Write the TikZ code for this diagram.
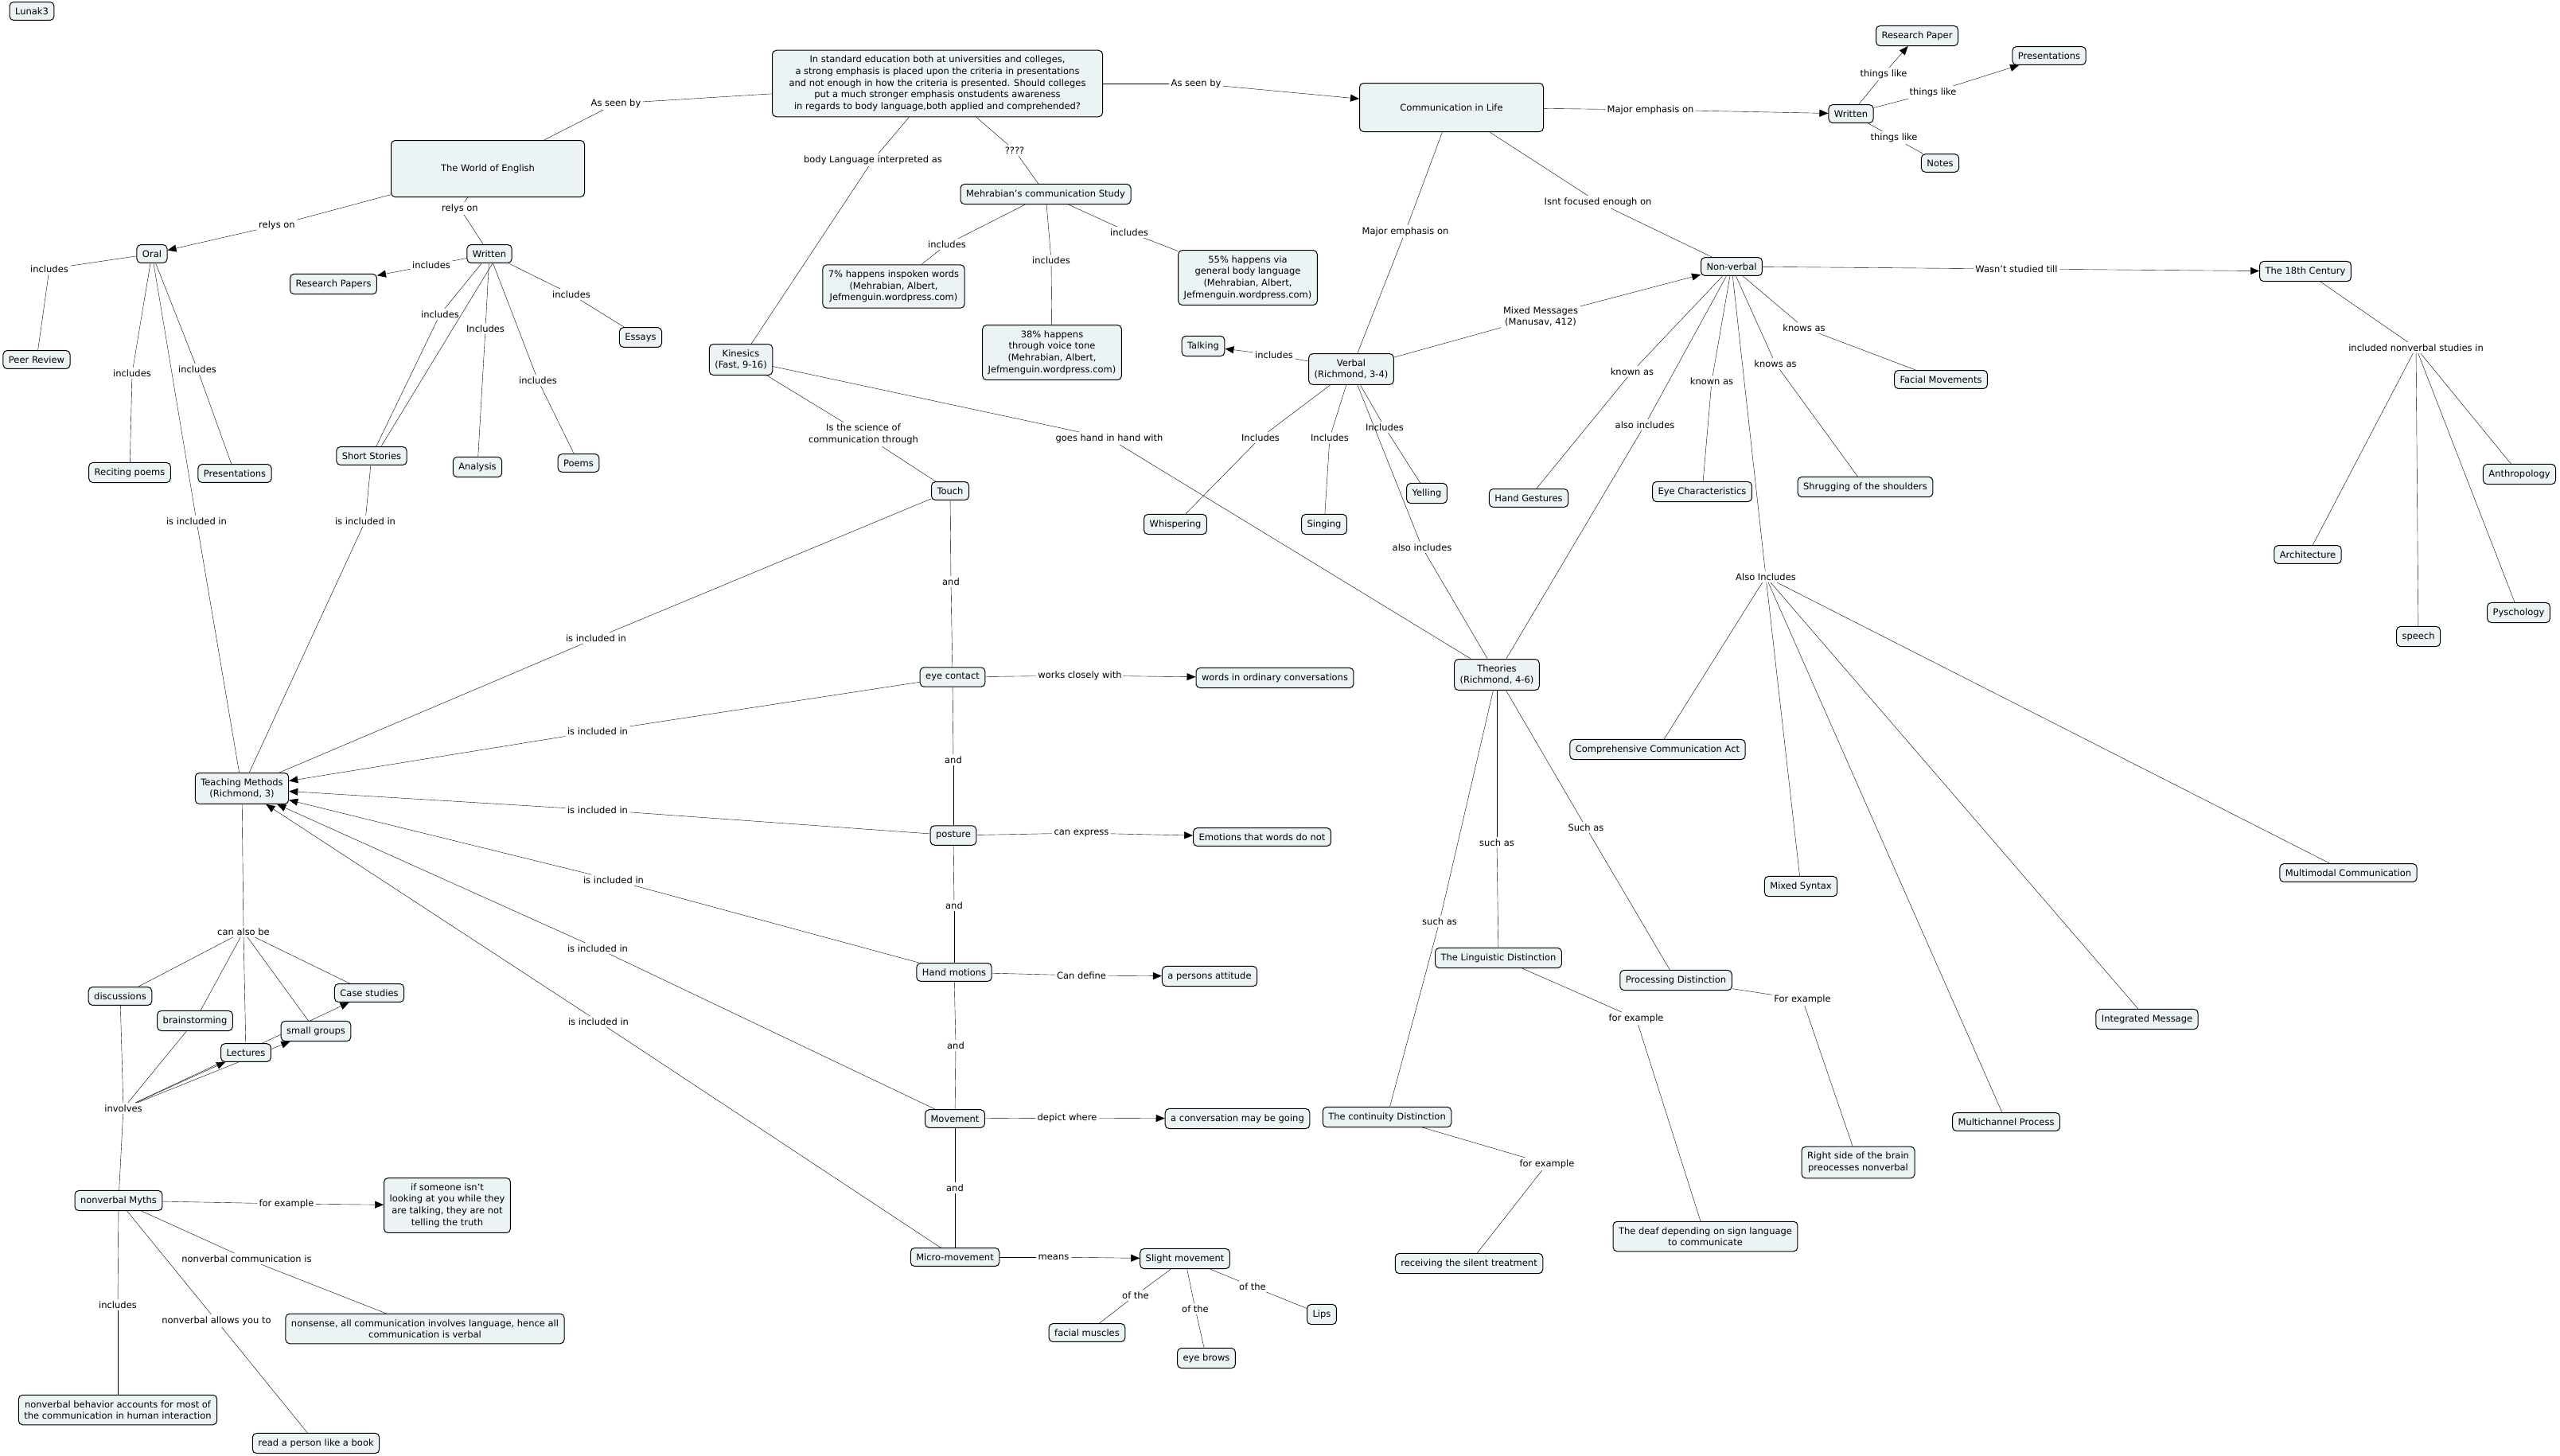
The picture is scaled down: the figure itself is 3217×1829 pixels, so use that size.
\documentclass[tikz,border=0pt]{standalone}
\usepackage{fontspec}
\setmainfont{DejaVu Sans}
\usetikzlibrary{arrows.meta,backgrounds}
\definecolor{cfill}{RGB}{236,243,245}
\tikzset{
 concept/.style={draw, rounded corners=5pt, fill=cfill, line width=1pt, inner xsep=7pt, inner ysep=7pt, align=center},
 link/.style={inner sep=2pt, align=center},
 arr/.style={-{Triangle[length=11pt,width=9pt]}},
}
\begin{document}
\begin{tikzpicture}[x=1pt, y=-1pt, font=\fontsize{11.5}{14.6}\selectfont, line width=1pt]
 \useasboundingbox (0,0) rectangle (3217,1829);
 \node[concept] (lunak) at (40,14) {Lunak3};
 \node[concept, minimum width=243pt, minimum height=71pt] (world) at (613,212) {The World of English};
 \node[concept, minimum width=415pt] (quest) at (1178,105) {In standard education both at universities and colleges,\\a strong emphasis is placed upon the criteria in presentations\\and not enough in how the criteria is presented. Should colleges\\put a much stronger emphasis onstudents awareness\\in regards to body language,both applied and comprehended?};
 \node[concept, minimum width=231pt, minimum height=61pt] (comm) at (1824,135) {Communication in Life};
 \node[concept] (wrtR) at (2326,143) {Written};
 \node[concept] (rpaper) at (2409,45) {Research Paper};
 \node[concept] (presR) at (2575,70) {Presentations};
 \node[concept] (notes) at (2438,205) {Notes};
 \node[concept] (nonv) at (2176,335) {Non-verbal};
 \node[concept] (verb) at (1698,464) {Verbal\\(Richmond, 3-4)};
 \node[concept] (c18) at (2897,341) {The 18th Century};
 \node[concept] (anthro) at (3166,596) {Anthropology};
 \node[concept] (arch) at (2900,697) {Architecture};
 \node[concept] (speech) at (3039,800) {speech};
 \node[concept] (psych) at (3165,770) {Pyschology};
 \node[concept] (facial) at (2439,477) {Facial Movements};
 \node[concept] (shrug) at (2344,612) {Shrugging of the shoulders};
 \node[concept] (eyech) at (2139,618) {Eye Characteristics};
 \node[concept] (handg) at (1921,626) {Hand Gestures};
 \node[concept] (theo) at (1881,848) {Theories\\(Richmond, 4-6)};
 \node[concept] (yell) at (1793,620) {Yelling};
 \node[concept] (sing) at (1664,659) {Singing};
 \node[concept] (whisp) at (1477,659) {Whispering};
 \node[concept] (talk) at (1512,435) {Talking};
 \node[concept] (kin) at (931,452) {Kinesics\\(Fast, 9-16)};
 \node[concept] (mehr) at (1314,244) {Mehrabian's communication Study};
 \node[concept] (p7) at (1123,360) {7\% happens inspoken words\\(Mehrabian, Albert,\\Jefmenguin.wordpress.com)};
 \node[concept] (p38) at (1322,443) {38\% happens\\through voice tone\\(Mehrabian, Albert,\\Jefmenguin.wordpress.com)};
 \node[concept] (p55) at (1568,349) {55\% happens via\\general body language\\(Mehrabian, Albert,\\Jefmenguin.wordpress.com)};
 \node[concept] (oral) at (191,319) {Oral};
 \node[concept] (wrtL) at (615,319) {Written};
 \node[concept] (rpapers) at (419,357) {Research Papers};
 \node[concept] (peer) at (46,452) {Peer Review};
 \node[concept] (recit) at (163,594) {Reciting poems};
 \node[concept] (presL) at (295,595) {Presentations};
 \node[concept] (short) at (467,573) {Short Stories};
 \node[concept] (anal) at (600,587) {Analysis};
 \node[concept] (poems) at (727,582) {Poems};
 \node[concept] (essays) at (805,424) {Essays};
 \node[concept] (tm) at (304,991) {Teaching Methods\\(Richmond, 3)};
 \node[concept] (disc) at (151,1252) {discussions};
 \node[concept] (brain) at (245,1283) {brainstorming};
 \node[concept] (lect) at (309,1323) {Lectures};
 \node[concept] (small) at (397,1296) {small groups};
 \node[concept] (case) at (464,1248) {Case studies};
 \node[concept] (myths) at (149,1509) {nonverbal Myths};
 \node[concept] (ifsome) at (562,1515) {if someone isn't\\looking at you while they\\are talking, they are not\\telling the truth};
 \node[concept] (nonsense) at (534,1670) {nonsense, all communication involves language, hence all\\communication is verbal};
 \node[concept] (nvbeh) at (148,1772) {nonverbal behavior accounts for most of\\the communication in human interaction};
 \node[concept] (read) at (397,1814) {read a person like a book};
 \node[concept] (touch) at (1194,617) {Touch};
 \node[concept] (eye) at (1197,851) {eye contact};
 \node[concept] (words) at (1602,852) {words in ordinary conversations};
 \node[concept] (post) at (1198,1050) {posture};
 \node[concept] (emo) at (1586,1052) {Emotions that words do not};
 \node[concept] (hand) at (1199,1222) {Hand motions};
 \node[concept] (att) at (1520,1227) {a persons attitude};
 \node[concept] (move) at (1200,1406) {Movement};
 \node[concept] (conv) at (1555,1406) {a conversation may be going};
 \node[concept] (micro) at (1200,1580) {Micro-movement};
 \node[concept] (slight) at (1489,1582) {Slight movement};
 \node[concept] (facm) at (1366,1675) {facial muscles};
 \node[concept] (brows) at (1516,1707) {eye brows};
 \node[concept] (lips) at (1661,1652) {Lips};
 \node[concept] (ling) at (1883,1204) {The Linguistic Distinction};
 \node[concept] (proc) at (2106,1232) {Processing Distinction};
 \node[concept] (cont) at (1743,1404) {The continuity Distinction};
 \node[concept] (deaf) at (2143,1554) {The deaf depending on sign language\\to communicate};
 \node[concept] (right) at (2335,1461) {Right side of the brain\\preocesses nonverbal};
 \node[concept] (silent) at (1846,1588) {receiving the silent treatment};
 \node[concept] (cca) at (2083,942) {Comprehensive Communication Act};
 \node[concept] (msyn) at (2263,1114) {Mixed Syntax};
 \node[concept] (mmc) at (2951,1097) {Multimodal Communication};
 \node[concept] (intm) at (2698,1281) {Integrated Message};
 \node[concept] (mcp) at (2521,1410) {Multichannel Process};

 \node[link] (lSeenL) at (774,130) {As seen by};
 \node[link] (lSeenR) at (1503,105) {As seen by};
 \node[link] (lBody) at (1097,201) {body Language interpreted as};
 \node[link] (lQ) at (1275,189) {????};
 \node[link] (lInc7) at (1190,307) {includes};
 \node[link] (lInc38) at (1321,327) {includes};
 \node[link] (lInc55) at (1419,292) {includes};
 \node[link] (lMajW) at (2074,138) {Major emphasis on};
 \node[link] (lLike1) at (2367,93) {things like};
 \node[link] (lLike2) at (2429,116) {things like};
 \node[link] (lLike3) at (2380,173) {things like};
 \node[link] (lFocus) at (2008,254) {Isnt focused enough on};
 \node[link] (lMajV) at (1766,291) {Major emphasis on};
 \node[link] (lMixed) at (1936,398) {Mixed Messages\\(Manusav, 412)};
 \node[link] (lTill) at (2534,338) {Wasn't studied till};
 \node[link] (lStud) at (3036,437) {included nonverbal studies in};
 \node[link] (lKnows1) at (2267,412) {knows as};
 \node[link] (lKnows2) at (2231,457) {knows as};
 \node[link] (lKnown1) at (2151,479) {known as};
 \node[link] (lKnown2) at (2051,467) {known as};
 \node[link] (lAlsoN) at (2067,534) {also includes};
 \node[link] (lAlsoInc) at (2219,725) {Also Includes};
 \node[link] (lIncT) at (1601,446) {includes};
 \node[link] (lIncW) at (1584,550) {Includes};
 \node[link] (lIncS) at (1671,550) {Includes};
 \node[link] (lIncY) at (1740,537) {Includes};
 \node[link] (lAlsoV) at (1787,688) {also includes};
 \node[link] (lSci) at (1085,546) {Is the science of\\communication through};
 \node[link] (lHand) at (1394,551) {goes hand in hand with};
 \node[link] (lAnd1) at (1195,731) {and};
 \node[link] (lAnd2) at (1198,955) {and};
 \node[link] (lAnd3) at (1199,1138) {and};
 \node[link] (lAnd4) at (1201,1314) {and};
 \node[link] (lAnd5) at (1200,1493) {and};
 \node[link] (lWorks) at (1357,849) {works closely with};
 \node[link] (lExpr) at (1359,1047) {can express};
 \node[link] (lDef) at (1359,1226) {Can define};
 \node[link] (lDep) at (1341,1405) {depict where};
 \node[link] (lMeans) at (1324,1580) {means};
 \node[link] (lOf1) at (1427,1628) {of the};
 \node[link] (lOf2) at (1502,1645) {of the};
 \node[link] (lOf3) at (1574,1617) {of the};
 \node[link] (lTm1) at (749,802) {is included in};
 \node[link] (lTm2) at (751,919) {is included in};
 \node[link] (lTm3) at (751,1018) {is included in};
 \node[link] (lTm4) at (771,1106) {is included in};
 \node[link] (lTm5) at (751,1192) {is included in};
 \node[link] (lTm6) at (752,1284) {is included in};
 \node[link] (lRely1) at (348,283) {relys on};
 \node[link] (lRely2) at (578,262) {relys on};
 \node[link] (lIncP) at (62,338) {includes};
 \node[link] (lIncR) at (166,469) {includes};
 \node[link] (lIncPr) at (248,464) {includes};
 \node[link] (lTmO) at (247,655) {is included in};
 \node[link] (lIncRp) at (542,333) {includes};
 \node[link] (lIncSh) at (553,395) {includes};
 \node[link] (lIncA) at (610,413) {Includes};
 \node[link] (lIncPo) at (676,478) {includes};
 \node[link] (lIncE) at (718,370) {includes};
 \node[link] (lTmS) at (459,655) {is included in};
 \node[link] (lCan) at (306,1171) {can also be};
 \node[link] (lInv) at (155,1393) {involves};
 \node[link] (lEx) at (360,1513) {for example};
 \node[link] (lNvc) at (310,1582) {nonverbal communication is};
 \node[link] (lIncB) at (148,1640) {includes};
 \node[link] (lAllow) at (272,1660) {nonverbal allows you to};
 \node[link] (lSuch1) at (1881,1059) {such as};
 \node[link] (lSuch2) at (1809,1158) {such as};
 \node[link] (lSuch3) at (1993,1040) {Such as};
 \node[link] (lExL) at (2056,1280) {for example};
 \node[link] (lExP) at (2265,1256) {For example};
 \node[link] (lExC) at (1944,1463) {for example};

 \begin{scope}[on background layer]
 \fill[white] (0,0) rectangle (3217,1829);
 \draw (lSeenL) edge (quest) edge (world);
 \draw (lSeenR) edge (quest) edge[arr] (comm);
 \draw (lBody) edge (quest) edge (kin);
 \draw (lQ) edge (quest) edge (mehr);
 \draw (lInc7) edge (mehr) edge (p7);
 \draw (lInc38) edge (mehr) edge (p38);
 \draw (lInc55) edge (mehr) edge (p55);
 \draw (lMajW) edge (comm) edge[arr] (wrtR);
 \draw (lLike1) edge (wrtR) edge[arr] (rpaper);
 \draw (lLike2) edge (wrtR) edge[arr] (presR);
 \draw (lLike3) edge (wrtR) edge (notes);
 \draw (lFocus) edge (comm) edge (nonv);
 \draw (lMajV) edge (comm) edge (verb);
 \draw (lMixed) edge (verb) edge[arr] (nonv);
 \draw (lTill) edge (nonv) edge[arr] (c18);
 \draw (lStud) edge (c18) edge (arch) edge (speech) edge (psych) edge (anthro);
 \draw (lKnows1) edge (nonv) edge (facial);
 \draw (lKnows2) edge (nonv) edge (shrug);
 \draw (lKnown1) edge (nonv) edge (eyech);
 \draw (lKnown2) edge (nonv) edge (handg);
 \draw (lAlsoN) edge (nonv) edge (theo);
 \draw (lAlsoInc) edge (nonv) edge (cca) edge (msyn) edge (mmc) edge (intm) edge (mcp);
 \draw (lIncT) edge (verb) edge[arr] (talk);
 \draw (lIncW) edge (verb) edge (whisp);
 \draw (lIncS) edge (verb) edge (sing);
 \draw (lIncY) edge (verb) edge (yell);
 \draw (lAlsoV) edge (verb) edge (theo);
 \draw (lSci) edge (kin) edge (touch);
 \draw (lHand) edge (kin) edge (theo);
 \draw (lAnd1) edge (touch) edge (eye);
 \draw (lAnd2) edge (eye) edge (post);
 \draw (lAnd3) edge (post) edge (hand);
 \draw (lAnd4) edge (hand) edge (move);
 \draw (lAnd5) edge (move) edge (micro);
 \draw (lWorks) edge (eye) edge[arr] (words);
 \draw (lExpr) edge (post) edge[arr] (emo);
 \draw (lDef) edge (hand) edge[arr] (att);
 \draw (lDep) edge (move) edge[arr] (conv);
 \draw (lMeans) edge (micro) edge[arr] (slight);
 \draw (lOf1) edge (slight) edge (facm);
 \draw (lOf2) edge (slight) edge (brows);
 \draw (lOf3) edge (slight) edge (lips);
 \draw (lTm1) edge (touch) edge (tm);
 \draw (lTm2) edge (eye) edge[arr] (tm);
 \draw (lTm3) edge (post) edge[arr] (tm);
 \draw (lTm4) edge (hand) edge[arr] (tm);
 \draw (lTm5) edge (move) edge[arr] (tm);
 \draw (lTm6) edge (micro) edge[arr] (tm);
 \draw (lRely1) edge (world) edge[arr] (oral);
 \draw (lRely2) edge (world) edge (wrtL);
 \draw (lIncP) edge (oral) edge (peer);
 \draw (lIncR) edge (oral) edge (recit);
 \draw (lIncPr) edge (oral) edge (presL);
 \draw (lTmO) edge (oral) edge (tm);
 \draw (lIncRp) edge (wrtL) edge[arr] (rpapers);
 \draw (lIncSh) edge (wrtL) edge (short);
 \draw ([xshift=4pt]wrtL.south) -- ([xshift=12pt]short.north);
 \draw (lIncA) edge (wrtL) edge (anal);
 \draw (lIncPo) edge (wrtL) edge (poems);
 \draw (lIncE) edge (wrtL) edge (essays);
 \draw (lTmS) edge (short) edge (tm);
 \draw (lCan) edge (tm) edge (disc) edge (brain) edge (lect) edge (small) edge (case);
 \draw (lInv) edge (disc) edge (myths) edge (brain) edge[arr] (case) edge[arr] (lect) edge[arr] (small);
 \draw (lEx) edge (myths) edge[arr] (ifsome);
 \draw (lNvc) edge (myths) edge (nonsense);
 \draw (lIncB) edge (myths) edge (nvbeh);
 \draw (lAllow) edge (myths) edge (read);
 \draw (lSuch1) edge (theo) edge (ling);
 \draw (lSuch2) edge (theo) edge (cont);
 \draw (lSuch3) edge (theo) edge (proc);
 \draw (lExL) edge (ling) edge (deaf);
 \draw (lExP) edge (proc) edge (right);
 \draw (lExC) edge (cont) edge (silent);
 \end{scope}
\end{tikzpicture}
\end{document}
